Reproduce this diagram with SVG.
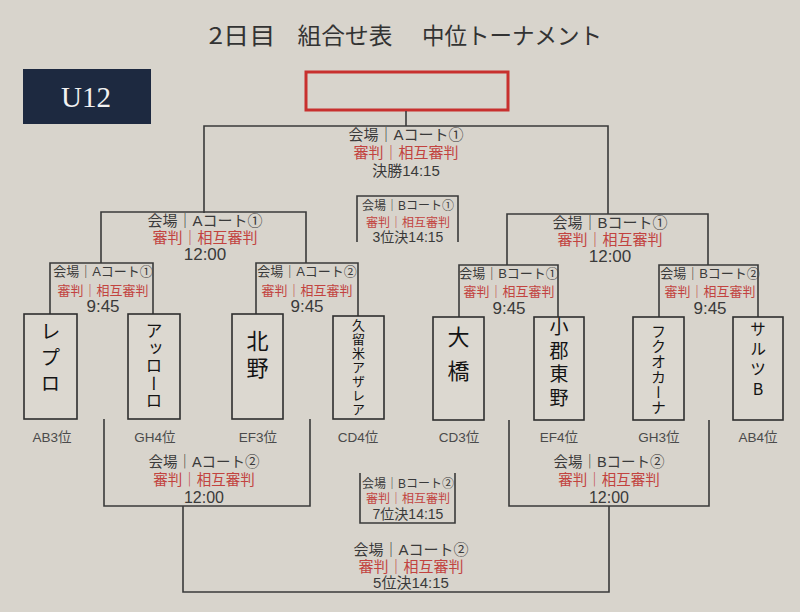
<svg xmlns="http://www.w3.org/2000/svg" width="800" height="612" viewBox="0 0 800 612">
<defs>
<style>
.bg{fill:#d8d4cc}
.ln{fill:none;stroke:#3a3a3a;stroke-width:1.6}
.team{fill:#dcd8d0;stroke:#2e2e2e;stroke-width:1.6}
text{font-family:"Liberation Sans","Noto Sans CJK JP",sans-serif;text-anchor:middle}
.k{fill:#3a3a3a}
.r{fill:#c2433f}
.t{fill:#3a3a3a}
.n{fill:#3a3a3a}
.lb{fill:#4a4a4a;font-size:13.5px}
.nm{fill:#141414;writing-mode:vertical-rl;text-orientation:upright;font-family:"Noto Sans CJK JP",sans-serif}
.ttl{fill:#333;font-family:"Noto Sans CJK JP",sans-serif}
.s15{font-size:15px}
.s13{font-size:13px}
.s12{font-size:12px}
</style>
</defs>
<rect class="bg" x="0" y="0" width="800" height="612"/>

<g id="title">
<text class="ttl" x="242" y="44" font-size="23" textLength="67" lengthAdjust="spacingAndGlyphs">2日目</text>
<text class="ttl" x="345" y="44" font-size="23" textLength="95" lengthAdjust="spacingAndGlyphs">組合せ表</text>
<text class="ttl" x="512" y="44" font-size="23" textLength="180" lengthAdjust="spacingAndGlyphs">中位トーナメント</text>
</g>

<g id="u12">
<rect x="23" y="69" width="128" height="55" fill="#1d2940"/>
<text x="86" y="107" font-size="29" fill="#f2f2f2" style="font-family:'Liberation Serif',serif">U12</text>
</g>

<g id="winner">
<rect x="306" y="72" width="202" height="38" fill="none" stroke="#c8302e" stroke-width="3"/>
</g>

<g id="connectors">
<path class="ln" d="M406,111 V126"/>
<path class="ln" d="M204,213 V126 H608 V214"/>
<path class="ln" d="M101,263 V212 H306 V263"/>
<path class="ln" d="M507,265 V214 H708 V265"/>
<path class="ln" d="M50,314 V263 H153 V314"/>
<path class="ln" d="M256,314 V263 H358 V316"/>
<path class="ln" d="M459,317 V265 H558 V317"/>
<path class="ln" d="M659,317 V265 H758 V317"/>
<path class="ln" d="M357,242 V196 H458 V242"/>
<path class="ln" d="M104,419 V506 H310 V419"/>
<path class="ln" d="M509,420 V506 H709 V420"/>
<path class="ln" d="M183,506 V592 H609 V506"/>
<path class="ln" d="M360,473 V523 H455 V473"/>
</g>

<g id="match-final">
<text class="k s15" x="406" y="140">会場｜Aコート①</text>
<text class="r s15" x="406" y="158">審判｜相互審判</text>
<text class="t s15" x="406" y="176">決勝14:15</text>
</g>
<g id="match-3rd">
<text class="k s12" x="408" y="210">会場｜Bコート①</text>
<text class="r s12" x="408" y="227">審判｜相互審判</text>
<text class="t" x="408" y="242" font-size="14">3位決14:15</text>
</g>
<g id="match-sf-a">
<text class="k s15" x="205" y="226">会場｜Aコート①</text>
<text class="r s15" x="205" y="243">審判｜相互審判</text>
<text class="n" x="205" y="260" font-size="17">12:00</text>
</g>
<g id="match-sf-b">
<text class="k s15" x="610" y="228">会場｜Bコート①</text>
<text class="r s15" x="610" y="245">審判｜相互審判</text>
<text class="n" x="610" y="262" font-size="17">12:00</text>
</g>
<g id="match-qf-a1">
<text class="k s13" x="103" y="276">会場｜Aコート①</text>
<text class="r s13" x="103" y="295">審判｜相互審判</text>
<text class="n" x="103" y="312" font-size="17">9:45</text>
</g>
<g id="match-qf-a2">
<text class="k s13" x="307" y="276">会場｜Aコート②</text>
<text class="r s13" x="307" y="295">審判｜相互審判</text>
<text class="n" x="307" y="312" font-size="17">9:45</text>
</g>
<g id="match-qf-b1">
<text class="k s13" x="509" y="278">会場｜Bコート①</text>
<text class="r s13" x="509" y="296">審判｜相互審判</text>
<text class="n" x="509" y="313.5" font-size="17">9:45</text>
</g>
<g id="match-qf-b2">
<text class="k s13" x="710" y="278">会場｜Bコート②</text>
<text class="r s13" x="710" y="296">審判｜相互審判</text>
<text class="n" x="710" y="313.5" font-size="17">9:45</text>
</g>
<g id="match-lsf-a">
<text class="k" x="204" y="467" font-size="14.5">会場｜Aコート②</text>
<text class="r" x="204" y="485" font-size="14.5">審判｜相互審判</text>
<text class="n" x="204" y="503" font-size="16">12:00</text>
</g>
<g id="match-lsf-b">
<text class="k" x="609" y="467" font-size="14.5">会場｜Bコート②</text>
<text class="r" x="609" y="485" font-size="14.5">審判｜相互審判</text>
<text class="n" x="609" y="503" font-size="16">12:00</text>
</g>
<g id="match-7th">
<text class="k s12" x="408" y="488">会場｜Bコート②</text>
<text class="r s12" x="408" y="503">審判｜相互審判</text>
<text class="t" x="408" y="519" font-size="14">7位決14:15</text>
</g>
<g id="match-5th">
<text class="k s15" x="411" y="555">会場｜Aコート②</text>
<text class="r s15" x="411" y="572">審判｜相互審判</text>
<text class="t s15" x="411" y="588">5位決14:15</text>
</g>

<g id="team-1">
<rect class="team" x="24" y="314" width="53" height="105"/>
<text class="nm" x="50.5" y="360" font-size="20" letter-spacing="6">レプロ</text>
<text class="lb" x="52" y="442">AB3位</text>
</g>
<g id="team-2">
<rect class="team" x="128" y="314" width="52" height="105"/>
<text class="nm" x="154" y="366" font-size="17" letter-spacing="0.5">アッローロ</text>
<text class="lb" x="155" y="442">GH4位</text>
</g>
<g id="team-3">
<rect class="team" x="232" y="314" width="51" height="105"/>
<text class="nm" x="257.5" y="356.5" font-size="22" letter-spacing="5">北野</text>
<text class="lb" x="258" y="442">EF3位</text>
</g>
<g id="team-4">
<rect class="team" x="333" y="316" width="51" height="103"/>
<text class="nm" x="358.5" y="368" font-size="13" letter-spacing="1">久留米アザレア</text>
<text class="lb" x="358" y="442">CD4位</text>
</g>
<g id="team-5">
<rect class="team" x="433" y="317" width="51" height="103"/>
<text class="nm" x="458.5" y="360" font-size="22" letter-spacing="12">大橋</text>
<text class="lb" x="459" y="442">CD3位</text>
</g>
<g id="team-6">
<rect class="team" x="534" y="317" width="50" height="103"/>
<text class="nm" x="559" y="364.5" font-size="19" letter-spacing="4.5">小郡東野</text>
<text class="lb" x="559" y="442">EF4位</text>
</g>
<g id="team-7">
<rect class="team" x="633" y="317" width="51" height="103"/>
<text class="nm" x="658.5" y="369.5" font-size="15" letter-spacing="0.3">フクオカーナ</text>
<text class="lb" x="659" y="442">GH3位</text>
</g>
<g id="team-8">
<rect class="team" x="733" y="317" width="50" height="103"/>
<text class="nm" x="758" y="361" font-size="16" letter-spacing="4">サルツB</text>
<text class="lb" x="758" y="442">AB4位</text>
</g>
</svg>
